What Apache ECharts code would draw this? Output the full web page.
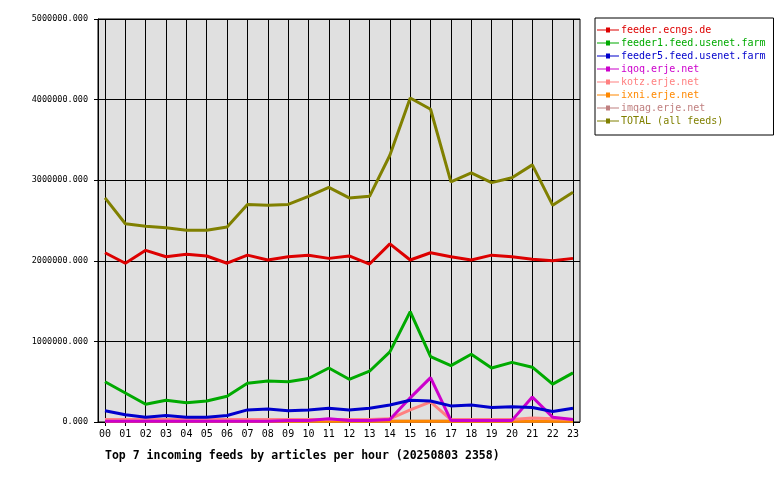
<!doctype html>
<html>
<head>
<meta charset="utf-8">
<script src="https://cdn.jsdelivr.net/npm/echarts@6/dist/echarts.min.js"></script>
</head>
<body style="margin:0;background:#fff">
<div id="main" style="width:780px;height:480px;"></div>
<script>
var hours = ['00','01','02','03','04','05','06','07','08','09','10','11','12','13','14','15','16','17','18','19','20','21','22','23'];
var names = ['feeder.ecngs.de','feeder1.feed.usenet.farm','feeder5.feed.usenet.farm','iqoq.erje.net','kotz.erje.net','ixni.erje.net','imqag.erje.net','TOTAL (all feeds)'];
var colors = ['#dd0000','#00aa00','#0000cc','#cc00cc','#ff8080','#ff8800','#c08080','#808000'];
var ecngs = [2.10,1.97,2.13,2.05,2.08,2.06,1.97,2.07,2.01,2.05,2.07,2.03,2.06,1.96,2.21,2.01,2.10,2.05,2.01,2.07,2.05,2.02,2.00,2.03];
var feeder1 = [0.50,0.36,0.22,0.27,0.24,0.26,0.32,0.48,0.51,0.50,0.54,0.67,0.53,0.63,0.87,1.37,0.81,0.70,0.84,0.67,0.74,0.68,0.47,0.61];
var feeder5 = [0.14,0.09,0.06,0.08,0.06,0.06,0.08,0.15,0.16,0.14,0.15,0.17,0.15,0.17,0.21,0.27,0.26,0.20,0.21,0.18,0.19,0.18,0.13,0.17];
var iqoq = [0.01,0.01,0.01,0.01,0.01,0.01,0.01,0.01,0.01,0.02,0.02,0.04,0.02,0.02,0.03,0.30,0.55,0.02,0.02,0.02,0.02,0.31,0.06,0.03];
var kotz = [0.03,0.03,0.03,0.03,0.03,0.03,0.03,0.03,0.03,0.03,0.03,0.03,0.03,0.03,0.04,0.15,0.25,0.03,0.03,0.03,0.03,0.05,0.04,0.03];
var ixni = [0.01,0.01,0.01,0.01,0.01,0.01,0.01,0.01,0.01,0.01,0.01,0.01,0.01,0.01,0.01,0.01,0.01,0.01,0.01,0.01,0.01,0.01,0.01,0.01];
var imqag = [0.01,0.01,0.01,0.01,0.01,0.01,0.01,0.01,0.01,0.01,0.01,0.01,0.01,0.01,0.01,0.01,0.01,0.01,0.01,0.01,0.01,0.01,0.01,0.01];
var total = [2.78,2.46,2.43,2.41,2.38,2.38,2.42,2.70,2.69,2.70,2.80,2.91,2.78,2.80,3.31,4.02,3.88,2.98,3.09,2.97,3.03,3.19,2.69,2.85];
var allData = [ecngs,feeder1,feeder5,iqoq,kotz,ixni,imqag,total];
var font = 'DejaVu Sans Mono';

var myChart = echarts.init(document.getElementById('main'));
// draw total first-ish order like the original: later feeds underneath
var series = names.map(function (n, i) {
  return {
    name: n, type: 'line', xAxisIndex: 0, yAxisIndex: 0,
    data: allData[i].map(function (v) { return v * 1000000; }),
    showSymbol: false, symbol: 'rect', symbolSize: 4,
    lineStyle: { width: 3, color: colors[i] }, itemStyle: { color: colors[i] },
    z: 10 + (names.length - i)
  };
});
option = {
  animation: false,
  grid: [
    { left: 105, width: 468, top: 19, height: 403 },
    { left: 98, width: 482, top: 19, height: 403, show: true, backgroundColor: '#e0e0e0', borderColor: '#000', borderWidth: 1 }
  ],
  xAxis: [
    { type: 'category', gridIndex: 0, data: hours, boundaryGap: false,
      axisLine: { show: false },
      axisTick: { show: true, length: 4, lineStyle: { color: '#000' } },
      axisLabel: { fontFamily: font, fontSize: 10, color: '#000', margin: 7, interval: 0 },
      splitLine: { show: true, lineStyle: { color: '#000', width: 1 } } },
    { type: 'value', gridIndex: 1, show: false, min: 0, max: 1 }
  ],
  yAxis: [
    { type: 'value', gridIndex: 0, min: 0, max: 5000000, show: false },
    { type: 'value', gridIndex: 1, min: 0, max: 5000000, interval: 1000000,
      axisLine: { show: true, lineStyle: { color: '#000' } },
      axisTick: { show: true, length: 4, lineStyle: { color: '#000' } },
      axisLabel: { fontFamily: font, fontSize: 8.5, color: '#000', margin: 10,
        formatter: function (v) { return v.toFixed(3); } },
      splitLine: { show: true, lineStyle: { color: '#000', width: 1 } } }
  ],
  legend: {
    orient: 'vertical', left: 595, top: 18, width: 168, height: 120,
    padding: [7, 8, 9, 2], itemGap: 3, itemWidth: 22, itemHeight: 10,
    borderColor: '#000', borderWidth: 1, borderRadius: 0,
    icon: 'path://M0,4H9V2H13V4H22V5H13V7H9V5H0Z',
    data: names.map(function (n, i) { return { name: n, textStyle: { color: colors[i] } }; }),
    textStyle: { fontFamily: font, fontSize: 10, padding: [0, 0, 0, -3] }
  },
  title: {
    text: 'Top 7 incoming feeds by articles per hour (20250803 2358)',
    left: 100, top: 445,
    textStyle: { fontFamily: font, fontSize: 11.5, fontWeight: 'bold', color: '#000' }
  },
  series: series
};
myChart.setOption(option);
</script>
</body>
</html>
